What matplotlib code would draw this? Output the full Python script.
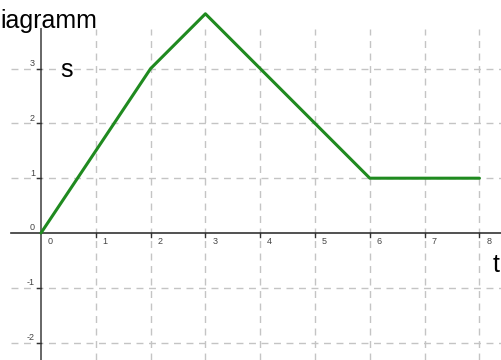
import matplotlib
matplotlib.use("Agg")
import matplotlib.pyplot as plt

# data
t_values = [0, 2, 3, 6, 8]
s_values = [0, 3, 4, 1, 1]
x_ticks = [0, 1, 2, 3, 4, 5, 6, 7, 8]
y_ticks = [-2, -1, 0, 1, 2, 3]
y_tick_labels = ["-2", "-1", "0", "1", "2", "3"]
title_text = "iagramm"
y_label = "s"
x_label = "t"

plt.rcParams['font.family'] = ['Liberation Sans', 'DejaVu Sans']

fig = plt.figure(figsize=(5.02, 3.6), dpi=100)
ax = fig.add_axes([0, 0, 1, 1])
ppu = 54.8
x0, y0 = 41.0, 233.0
W, H = 502, 360
ax.set_xlim(-x0 / ppu, (W - x0) / ppu)
ax.set_ylim(-(H - y0) / ppu, y0 / ppu)
ax.axis('off')

grid_top = (y0 - 29) / ppu
grid_left = (11 - x0) / ppu
ybot = -(H - y0) / ppu
xright = (W - x0) / ppu

gkw = dict(color='#c4c4c4', lw=1.0, dashes=(5, 4), zorder=1)
for xv in x_ticks:
    if xv != 0:
        ax.plot([xv, xv], [ybot, grid_top], **gkw)
for yv in y_ticks:
    if yv != 0:
        ax.plot([grid_left, xright], [yv, yv], **gkw)

# axes
ax.plot([grid_left, xright], [0, 0], color='#333333', lw=1.2, zorder=2)
ax.plot([0, 0], [ybot, grid_top], color='#666666', lw=1.4, zorder=2)

tick_len = 4 / ppu
for xv in x_ticks:
    if xv != 0:
        ax.plot([xv, xv], [0, -tick_len], color='#333333', lw=1.0, zorder=2)
    ax.text(xv + 7 / ppu, -9 / ppu, str(xv), fontsize=6.5, color='#444444',
            ha='left', va='center', zorder=3)
for yv, lab in zip(y_ticks, y_tick_labels):
    if yv != 0:
        ax.plot([-tick_len, 0], [yv, yv], color='#333333', lw=1.0, zorder=2)
    ax.text(-6 / ppu, yv + 5 / ppu, lab, fontsize=6.5, color='#444444',
            ha='right', va='center', zorder=3)

ax.plot(t_values, s_values, color='#1f8a1f', lw=2.2, zorder=4,
        solid_joinstyle='round', solid_capstyle='round', clip_on=False)

ax.text(-x0 / ppu + 0.5 / ppu, (y0 - 28) / ppu, title_text, fontsize=18,
        color='black', ha='left', va='baseline', zorder=5)
ax.text(19 / ppu, (y0 - 77) / ppu, y_label, fontsize=18, color='black',
        ha='left', va='baseline', zorder=5)
ax.text((493 - x0) / ppu, -(272 - y0) / ppu, x_label, fontsize=18,
        color='black', ha='left', va='baseline', zorder=5)

fig.savefig("out.png", dpi=100)
